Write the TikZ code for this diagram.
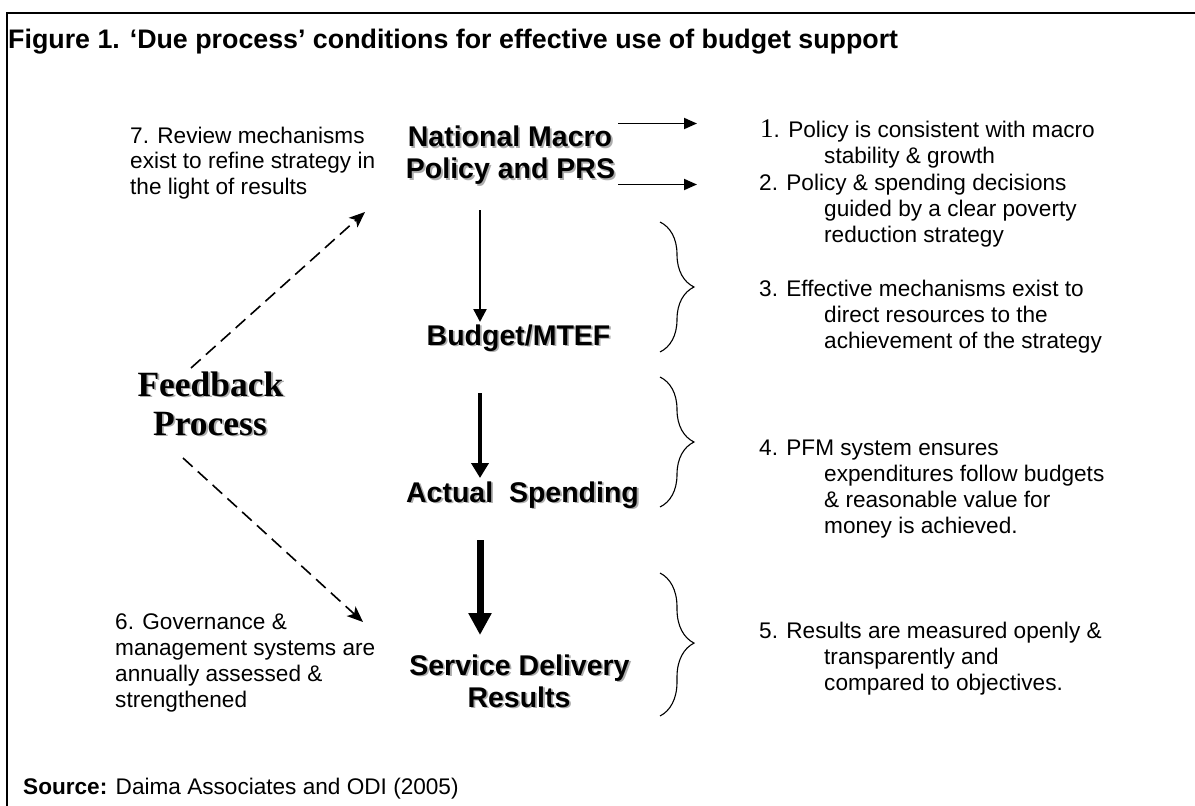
\documentclass[tikz,border=0pt]{standalone}
\usepackage{fontspec}
\setmainfont{Liberation Sans}
\newfontfamily\serifff{Liberation Serif}
\usetikzlibrary{arrows.meta,decorations.pathreplacing}
\begin{document}
\begin{tikzpicture}[x=1pt,y=-1pt,
  txt/.style={font=\fontsize{22.6}{26}\selectfont, inner sep=0pt, anchor=base west},
  big/.style={font=\fontsize{28.5}{32}\selectfont\bfseries, inner sep=0pt, anchor=base},
  shad/.style={text=black!32},
  fb/.style={font=\fontsize{35.5}{40}\selectfont\serifff\bfseries, inner sep=0pt, anchor=base},
  brc/.style={decorate, decoration={brace, amplitude=34pt, aspect=#1}, line width=1.1pt},
  harr/.style={line width=1.8pt, -{Triangle[length=13pt,width=11pt]}},
  varrA/.style={line width=2.4pt, -{Triangle[length=13pt,width=13pt]}},
  varrB/.style={line width=4pt, -{Triangle[length=15pt,width=17pt]}},
  varrC/.style={line width=7pt, -{Triangle[length=22pt,width=22pt]}},
  darr/.style={line width=1.6pt, dash pattern=on 13pt off 7pt, -{Stealth[length=16pt,width=13pt,inset=4pt]}}
]
\useasboundingbox (0,0) rectangle (1195,806);
\fill[white] (0,0) rectangle (1195,806);
% frame (open to the right and bottom edges)
\draw[line width=2.5pt] (7,815) -- (7,13) -- (1205,13);

% title
\node[inner sep=0pt, anchor=base west, font=\fontsize{26.8}{30}\selectfont\bfseries] (title) at (8,48)
  {Figure 1. `Due process' conditions for effective use of budget support};

% main column (with drop shadows)
\node[big, shad] (nat1-s) at (511.8,148.5) {National Macro};
\node[big] (nat1) at (510,146.7) {National Macro};
\node[big, shad] (nat2-s) at (512.3,180.1) {Policy and PRS};
\node[big] (nat2) at (510.5,178.3) {Policy and PRS};
\node[big, shad] (bud-s) at (520.3,346.8) {Budget/MTEF};
\node[big] (bud) at (518.5,345) {Budget/MTEF};
\node[big, shad] (act-s) at (524.3,503.8) {Actual\ \ Spending};
\node[big] (act) at (522.5,502) {Actual\ \ Spending};
\node[big, shad] (ser1-s) at (521.3,676.8) {Service Delivery};
\node[big] (ser1) at (519.5,675) {Service Delivery};
\node[big, shad] (ser2-s) at (520.8,708.8) {Results};
\node[big] (ser2) at (519,707) {Results};

% feedback
\node[fb, shad] (fbk1-s) at (212.3,397.8) {Feedback};
\node[fb] (fbk1) at (210.5,396) {Feedback};
\node[fb, shad] (fbk2-s) at (211.8,436.8) {Process};
\node[fb] (fbk2) at (210,435) {Process};

% left texts
\node[txt] (l7a) at (130,143) {7. Review mechanisms};
\node[txt] (l7b) at (130,168.5) {exist to refine strategy in};
\node[txt] (l7c) at (130,194) {the light of results};
\node[txt] (l6a) at (115,629) {6. Governance \&};
\node[txt] (l6b) at (115,655) {management systems are};
\node[txt] (l6c) at (115,681) {annually assessed \&};
\node[txt] (l6d) at (115,707) {strengthened};

% right texts
\node[txt] (r1a) at (760,137.3) {{\serifff\fontsize{27}{27}\selectfont 1}. Policy is consistent with macro};
\node[txt] (r1b) at (824,163.3) {stability \& growth};
\node[txt] (r2a) at (759,190.7) {2. Policy \& spending decisions};
\node[txt] (r2b) at (824,216.7) {guided by a clear poverty};
\node[txt] (r2c) at (824,242.7) {reduction strategy};
\node[txt] (r3a) at (759,296) {3. Effective mechanisms exist to};
\node[txt] (r3b) at (824,322) {direct resources to the};
\node[txt] (r3c) at (824,348) {achievement of the strategy};
\node[txt] (r4a) at (759,455) {4. PFM system ensures};
\node[txt] (r4b) at (824,481) {expenditures follow budgets};
\node[txt] (r4c) at (824,507) {\& reasonable value for};
\node[txt] (r4d) at (824,533) {money is achieved.};
\node[txt] (r5a) at (759,638) {5. Results are measured openly \&};
\node[txt] (r5b) at (824,664) {transparently and};
\node[txt] (r5c) at (824,690) {compared to objectives.};

% source
\node[txt] (src) at (23,794) {\textbf{Source:} Daima Associates and ODI (2005)};

% connector end points
\coordinate (h1s) at (618,123.5);
\coordinate (h1e) at (697,123.5);
\coordinate (h2s) at (618,184.5);
\coordinate (h2e) at (697,184.5);
\coordinate (v1s) at (480,210);
\coordinate (v1e) at (480,322);
\coordinate (v2s) at (480,393);
\coordinate (v2e) at (480,478);
\coordinate (v3s) at (480,540);
\coordinate (v3e) at (480,635);
\coordinate (d1s) at (191,368);
\coordinate (d1e) at (365,212);
\coordinate (d2s) at (183,458);
\coordinate (d2e) at (363,622);

\draw[harr] (h1s) -- (h1e);
\draw[harr] (h2s) -- (h2e);
\draw[varrA] (v1s) -- (v1e);
\draw[varrB] (v2s) -- (v2e);
\draw[varrC] (v3s) -- (v3e);
\draw[darr] (d1s) -- (d1e);
\draw[darr] (d2s) -- (d2e);

% braces
\coordinate (b1t) at (660,222);
\coordinate (b1b) at (660,352);
\coordinate (b2t) at (660,377);
\coordinate (b2b) at (660,507);
\coordinate (b3t) at (660,573);
\coordinate (b3b) at (660,716);
\draw[brc=0.5] (b1t) -- (b1b);
\draw[brc=0.5] (b2t) -- (b2b);
\draw[brc=0.49] (b3t) -- (b3b);
\end{tikzpicture}
\end{document}
